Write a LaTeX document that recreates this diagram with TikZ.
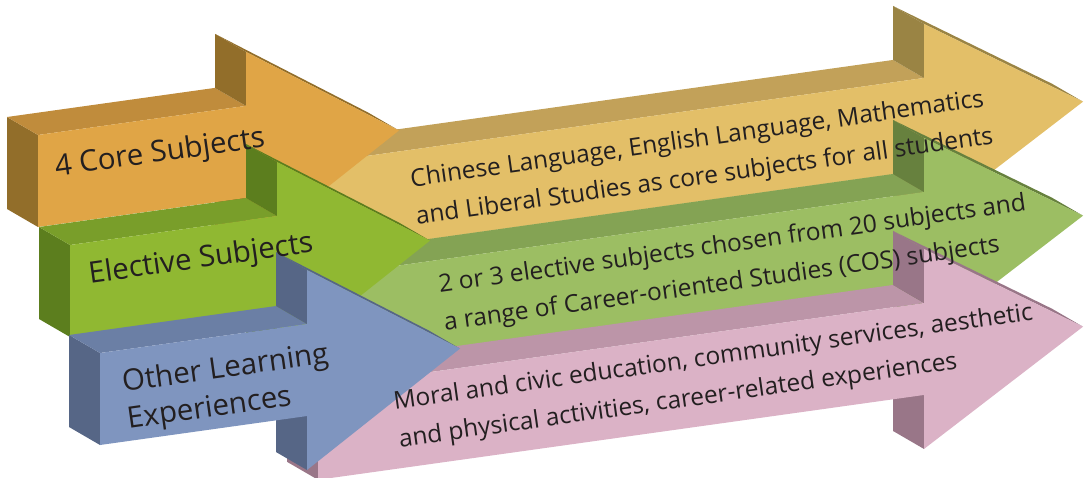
\documentclass[tikz,border=0pt]{standalone}
\usepackage{fontspec}
\setmainfont{Open Sans}
\usepackage{xcolor}

\definecolor{coreFront}{RGB}{224,165,70}
\definecolor{coreTop}{RGB}{192,140,60}
\definecolor{coreSide}{RGB}{146,110,42}
\definecolor{coreBandFront}{RGB}{227,191,104}
\definecolor{coreBandTop}{RGB}{194,161,89}
\definecolor{coreBandSide}{RGB}{154,132,68}
\definecolor{electFront}{RGB}{144,184,50}
\definecolor{electTop}{RGB}{121,158,42}
\definecolor{electSide}{RGB}{92,126,30}
\definecolor{electBandFront}{RGB}{156,190,99}
\definecolor{electBandTop}{RGB}{132,163,84}
\definecolor{electBandSide}{RGB}{103,129,62}
\definecolor{olearnFront}{RGB}{127,149,191}
\definecolor{olearnTop}{RGB}{107,127,165}
\definecolor{olearnSide}{RGB}{86,102,134}
\definecolor{olearnBandFront}{RGB}{219,178,198}
\definecolor{olearnBandTop}{RGB}{188,149,168}
\definecolor{olearnBandSide}{RGB}{153,118,136}
\definecolor{textdark}{RGB}{35,31,32}

% #1,#2 front top-left corner, #3 shaft length, #4 head length,
% #5 front colour, #6 top colour, #7 side colour
\newcommand{\slabarrow}[7]{%
  \pgfmathsetmacro{\slabXa}{#1}
  \pgfmathsetmacro{\slabXn}{#1+#3}
  \pgfmathsetmacro{\slabXt}{#1+#3+#4}
  \pgfmathsetmacro{\slabYa}{#2}
  \pgfmathsetmacro{\slabYb}{#2+92}
  \pgfmathsetmacro{\slabYn}{#2-0.14*#3}
  \pgfmathsetmacro{\slabYm}{#2+92-0.14*#3}
  \pgfmathsetmacro{\slabYt}{#2+46-0.14*(#3+#4)}
  \fill[#7] (\slabXa,\slabYa) -- (\slabXa,\slabYb) -- ++(-31,-18) -- ++(0,-92) -- cycle;
  \fill[#6] (\slabXa,\slabYa) -- (\slabXn,\slabYn) -- ++(-31,-18) -- (\slabXa-31,\slabYa-18) -- cycle;
  \fill[#7] (\slabXn,\slabYn) -- ++(0,-54) -- ++(-31,-18) -- ++(0,54) -- cycle;
  \fill[#7] (\slabXn,\slabYn-54) -- (\slabXt,\slabYt) -- ++(-31,-18) -- (\slabXn-31,\slabYn-72) -- cycle;
  \fill[#7] (\slabXn,\slabYm) -- ++(0,54) -- ++(-31,-18) -- ++(0,-54) -- cycle;
  \fill[#5] (\slabXa,\slabYa) -- (\slabXn,\slabYn) -- ++(0,-54) -- (\slabXt,\slabYt)
    -- (\slabXn,\slabYm+54) -- (\slabXn,\slabYm) -- (\slabXa,\slabYb) -- cycle;
}

\tikzset{
  headtext/.style={font=\fontsize{29.5}{37}\selectfont, text=textdark, align=left, inner sep=0pt, rotate=8},
  bandtext/.style={font=\fontsize{24.5}{38}\selectfont, text=textdark, align=left, inner sep=0pt, rotate=8}
}

\begin{document}
\begin{tikzpicture}[x=1pt, y=-1pt]
  \useasboundingbox (0,0) rectangle (1085,477);

  % back to front
  \slabarrow{318}{162.8}{606}{159}{coreBandFront}{coreBandTop}{coreBandSide}
  \slabarrow{38}{135}{208}{153}{coreFront}{coreTop}{coreSide}
  \slabarrow{318}{276.8}{606}{159}{electBandFront}{electBandTop}{electBandSide}
  \slabarrow{70}{245}{207}{153}{electFront}{electTop}{electSide}
  \slabarrow{318}{387.8}{606}{159}{olearnBandFront}{olearnBandTop}{olearnBandSide}
  \slabarrow{100}{353}{207}{153}{olearnFront}{olearnTop}{olearnSide}

  \node[headtext] (core) at (160,154) {4 Core Subjects};
  \node[headtext] (elect) at (201,260) {Elective Subjects};
  \node[headtext] (olearn) at (228,388) {Other Learning\\Experiences};

  \node[bandtext] (coredesc) at (702,159) {Chinese Language, English Language, Mathematics\\and Liberal Studies as core subjects for all students};
  \node[bandtext] (electdesc) at (735,264) {2 or 3 elective subjects chosen from 20 subjects and\\a range of Career-oriented Studies (COS) subjects};
  \node[bandtext] (olearndesc) at (716,377) {Moral and civic education, community services, aesthetic\\and physical activities, career-related experiences};
\end{tikzpicture}
\end{document}
